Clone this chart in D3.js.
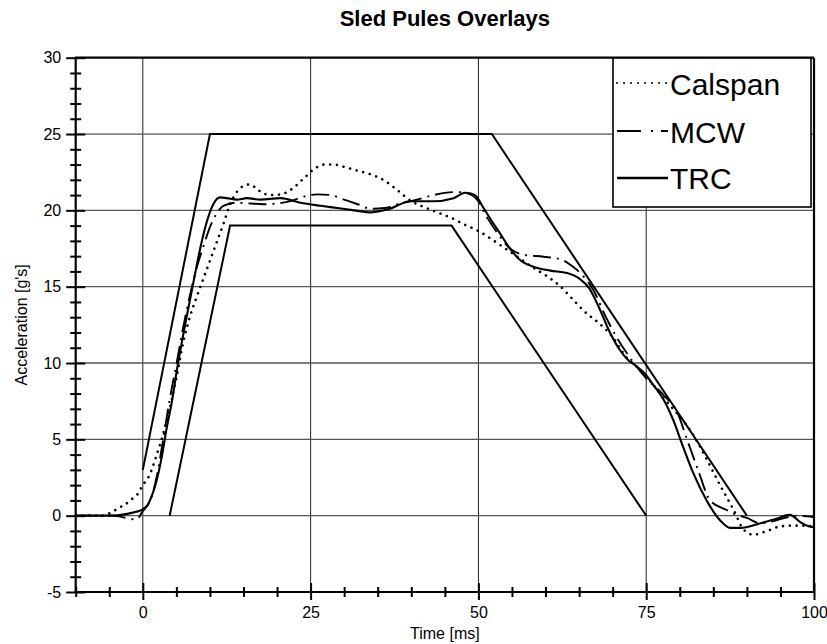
<!DOCTYPE html>
<html>
<head>
<meta charset="utf-8">
<script src="https://cdn.jsdelivr.net/npm/d3@7/dist/d3.min.js"></script>
<style>
  html, body { margin: 0; padding: 0; background: #fff; }
  svg { display: block; font-family: "Liberation Sans", Arial, sans-serif; }
</style>
</head>
<body>
<svg id="chart" width="827" height="644"></svg>
<script>
// ---------------- DATA ----------------
const title = "Sled Pules Overlays";
const xLabel = "Time [ms]";
const yLabel = "Acceleration [g's]";

const xMajorTicks = [0, 25, 50, 75, 100];
const xMinorTicks = [-10, -5, 5, 10, 15, 20, 30, 35, 40, 45, 55, 60, 65, 70, 80, 85, 90, 95];
const yMajorTicks = [-5, 0, 5, 10, 15, 20, 25, 30];
const xGrid = [0, 25, 50, 75];
const yGrid = [0, 5, 10, 15, 20, 25];

// Corridor boundaries
const upperCorridorT = [0, 10, 52, 90];
const upperCorridorA = [3, 25, 25, 0];
const lowerCorridorT = [4, 13, 46, 75];
const lowerCorridorA = [0, 19, 19, 0];

// Calspan (dotted)
const calspanT = [-10, -6, -4.6, -3.6, -2.6, -1.6, -0.8, 0, 1, 2, 3, 4, 5, 6, 7, 8, 9, 10, 11, 12, 13, 14, 15, 16, 17, 18, 19.5, 21, 22.5, 24, 25.5, 27, 28.5, 30, 32, 34, 36, 38, 40, 42, 44, 46, 48, 50, 52, 54, 56, 58, 60, 62, 64, 66, 68, 70, 72, 74, 76, 78, 80, 82, 84, 86, 88, 89.5, 91, 93, 95, 97, 100];
const calspanA = [0, 0, 0.25, 0.5, 0.75, 1.1, 1.4, 2.0, 2.66, 3.9, 5.3, 7.0, 9.0, 11.3, 13.0, 14.3, 15.5, 16.7, 17.9, 19.1, 20.4, 21.2, 21.6, 21.7, 21.4, 21.1, 21.0, 21.1, 21.5, 22.1, 22.7, 23.0, 23.0, 22.85, 22.6, 22.35, 21.95, 21.3, 20.6, 20.2, 19.85, 19.5, 19.05, 18.65, 18.1, 17.5, 16.9, 16.3, 15.75, 15.1, 14.2, 13.3, 12.6, 11.7, 10.4, 9.6, 8.6, 7.5, 6.5, 5.3, 3.7, 2.0, 0.4, -0.9, -1.25, -1.0, -0.7, -0.65, -0.7];

// MCW (dash-dot)
const mcwT = [-10, -5, -3.5, -2, -1, 0, 1, 2, 3, 4, 5, 6, 7, 8, 9, 10, 11, 12, 14, 16, 18, 20, 22, 24, 26, 28, 30, 32, 34, 36, 38, 40.8, 43.3, 46.8, 48, 49.8, 51.2, 52.7, 54.7, 56.7, 59.7, 62.2, 64.1, 65.6, 67.1, 69, 71, 72.5, 75, 77.6, 79.7, 81, 82.8, 84.5, 87, 88.5, 90, 92, 94, 96, 97.5, 100];
const mcwA = [0, 0, -0.05, -0.2, -0.25, 0.3, 0.9, 2.4, 4.9, 7.6, 9.9, 12.3, 14.4, 16.2, 17.6, 18.9, 19.8, 20.3, 20.5, 20.45, 20.4, 20.45, 20.6, 20.9, 21.05, 21.0, 20.7, 20.4, 20.1, 20.15, 20.4, 20.7, 21.0, 21.2, 21.15, 20.7, 19.6, 18.6, 17.5, 17.1, 16.96, 16.8, 16.3, 15.7, 14.8, 13.0, 11.4, 10.4, 9.0, 7.9, 6.7, 5.1, 2.9, 1.0, 0.37, 0.05, -0.15, -0.5, -0.35, -0.1, 0.0, -0.1];

// TRC (solid)
const trcT = [-10, -5, -2.5, -1, 0, 0.7, 1.3, 2, 2.8, 3.5, 4.3, 5.1, 6.3, 7.5, 8.5, 9.5, 10.5, 11.5, 12.5, 14, 15.5, 17.5, 20.5, 23.5, 26.5, 29, 31.5, 34, 36.8, 39.8, 43.3, 46.3, 48, 49.5, 50.7, 51.7, 53.2, 54.7, 56.2, 58.2, 60.7, 63.2, 65, 66.5, 68, 69.6, 71, 72.3, 73.5, 74.8, 76, 77.6, 79, 80.5, 82, 84, 86, 87.5, 89, 92, 94.4, 96.4, 97.9, 99.2, 100];
const trcA = [0, 0, 0.1, 0.25, 0.42, 0.7, 1.25, 2.2, 3.8, 5.6, 7.4, 9.6, 12.5, 15.2, 17.4, 19.2, 20.4, 20.85, 20.8, 20.7, 20.8, 20.7, 20.8, 20.5, 20.3, 20.15, 20.0, 19.87, 20.1, 20.6, 20.6, 20.8, 21.15, 21.0, 20.2, 19.5, 18.5, 17.5, 16.75, 16.3, 16.05, 15.9, 15.55, 14.9, 13.6, 12.0, 10.9, 10.2, 9.8, 9.3, 8.6, 7.6, 6.3, 4.5, 2.8, 1.0, -0.3, -0.8, -0.8, -0.5, -0.2, 0.05, -0.4, -0.7, -0.75];

const legendNames = ["Calspan", "MCW", "TRC"];

// ---------------- LAYOUT ----------------
const svg = d3.select("#chart");
const L = 75.7, R = 814, T = 57.7, B = 592;
const x = d3.scaleLinear().domain([-10, 100]).range([L, R]);
const y = d3.scaleLinear().domain([-5, 30]).range([B, T]);
const fmt = d => String(d);  // plain hyphen minus, as in the reference

const zip = (ts, as) => ts.map((t, i) => [t, as[i]]);
const lineSmooth = d3.line().x(d => x(d[0])).y(d => y(d[1])).curve(d3.curveMonotoneX);
const lineStraight = d3.line().x(d => x(d[0])).y(d => y(d[1]));

// Grid
svg.append("g").selectAll("line").data(xGrid).join("line")
  .attr("x1", d => x(d)).attr("x2", d => x(d)).attr("y1", T).attr("y2", B)
  .attr("stroke", "#222").attr("stroke-width", 1);
svg.append("g").selectAll("line").data(yGrid).join("line")
  .attr("x1", L).attr("x2", R).attr("y1", d => y(d)).attr("y2", d => y(d))
  .attr("stroke", "#555").attr("stroke-width", 1.3);

// Series
const styles = {
  Calspan: { dash: "0.01,6.8", width: 2.6, cap: "round" },
  MCW: { dash: "18,6,2,6", width: 1.9, cap: "butt" },
  TRC: { dash: null, width: 2.1, cap: "butt" }
};

svg.append("path").datum(zip(upperCorridorT, upperCorridorA))
  .attr("d", lineStraight).attr("fill", "none").attr("stroke", "#000").attr("stroke-width", 2);
svg.append("path").datum(zip(lowerCorridorT, lowerCorridorA))
  .attr("d", lineStraight).attr("fill", "none").attr("stroke", "#000").attr("stroke-width", 2);

const series = [
  { name: "Calspan", data: zip(calspanT, calspanA) },
  { name: "MCW", data: zip(mcwT, mcwA) },
  { name: "TRC", data: zip(trcT, trcA) }
];
series.forEach(s => {
  const st = styles[s.name];
  svg.append("path").datum(s.data)
    .attr("d", lineSmooth).attr("fill", "none").attr("stroke", "#000")
    .attr("stroke-width", st.width).attr("stroke-linecap", st.cap)
    .attr("stroke-dasharray", st.dash);
});

// Frame
svg.append("line").attr("x1", L).attr("x2", R).attr("y1", T).attr("y2", T)
  .attr("stroke", "#000").attr("stroke-width", 2.2);
svg.append("line").attr("x1", R).attr("x2", R).attr("y1", T).attr("y2", B)
  .attr("stroke", "#000").attr("stroke-width", 2.2);

// X axis
const gx = svg.append("g").attr("transform", `translate(0,${B})`);
gx.call(d3.axisBottom(x).tickValues(xMajorTicks).tickSize(8).tickFormat(fmt));
gx.selectAll(".tick line").attr("y1", -9).attr("y2", 8).attr("stroke-width", 2);
gx.selectAll(".tick text").attr("y", 26).attr("dy", 0).attr("font-size", 16)
  .attr("font-family", "Liberation Sans, Arial, sans-serif").attr("fill", "#000");
gx.select(".domain").remove();
const gxm = svg.append("g").attr("transform", `translate(0,${B})`);
gxm.call(d3.axisBottom(x).tickValues(xMinorTicks).tickSize(5).tickFormat(""));
gxm.selectAll(".tick line").attr("y1", -5).attr("y2", 5).attr("stroke-width", 2);
gxm.select(".domain").remove();
svg.append("line").attr("x1", L - 1).attr("x2", R + 1).attr("y1", B).attr("y2", B)
  .attr("stroke", "#000").attr("stroke-width", 2.2);

// Y axis
const yMinorTicks = d3.range(-5, 31, 1).filter(v => v % 5 !== 0);
const gy = svg.append("g").attr("transform", `translate(${L},0)`);
gy.call(d3.axisLeft(y).tickValues(yMajorTicks).tickSize(9).tickFormat(fmt));
gy.selectAll(".tick line").attr("x1", -9.5).attr("x2", 9.5).attr("stroke-width", 2);
gy.selectAll(".tick text").attr("x", -14.5).attr("font-size", 16)
  .attr("font-family", "Liberation Sans, Arial, sans-serif").attr("fill", "#000");
gy.select(".domain").remove();
const gym = svg.append("g").attr("transform", `translate(${L},0)`);
gym.call(d3.axisLeft(y).tickValues(yMinorTicks).tickSize(5).tickFormat(""));
gym.selectAll(".tick line").attr("x1", -5.5).attr("x2", 5.5).attr("stroke-width", 2);
gym.select(".domain").remove();
svg.append("line").attr("x1", L).attr("x2", L).attr("y1", T - 1).attr("y2", B + 1)
  .attr("stroke", "#000").attr("stroke-width", 2.2);

// Labels
svg.append("text").attr("x", (L + R) / 2).attr("y", 26).attr("text-anchor", "middle")
  .attr("font-size", 22).attr("font-weight", "bold").text(title);
svg.append("text").attr("x", (L + R) / 2).attr("y", 639).attr("text-anchor", "middle")
  .attr("font-size", 16).text(xLabel);
svg.append("text").attr("transform", `translate(27,${(T + B) / 2}) rotate(-90)`)
  .attr("text-anchor", "middle").attr("font-size", 16).text(yLabel);

// Legend
const lg = svg.append("g");
lg.append("rect").attr("x", 613).attr("y", 58).attr("width", 198).attr("height", 149)
  .attr("fill", "#fff").attr("stroke", "#000").attr("stroke-width", 1.6);
const legendLineY = [83, 131, 178];
const legendTextY = [95, 143, 189];
const legendDash = { Calspan: "0.01,7", MCW: "24,10,2,8", TRC: null };
legendNames.forEach((n, i) => {
  const st = styles[n];
  lg.append("line").attr("x1", 617).attr("x2", 668)
    .attr("y1", legendLineY[i]).attr("y2", legendLineY[i])
    .attr("stroke", "#000").attr("stroke-width", n === "TRC" ? 2.6 : (n === "Calspan" ? 2 : 1.9))
    .attr("stroke-linecap", st.cap).attr("stroke-dasharray", legendDash[n]);
  lg.append("text").attr("x", 670).attr("y", legendTextY[i]).attr("font-size", 30).text(n);
});
</script>
</body>
</html>
